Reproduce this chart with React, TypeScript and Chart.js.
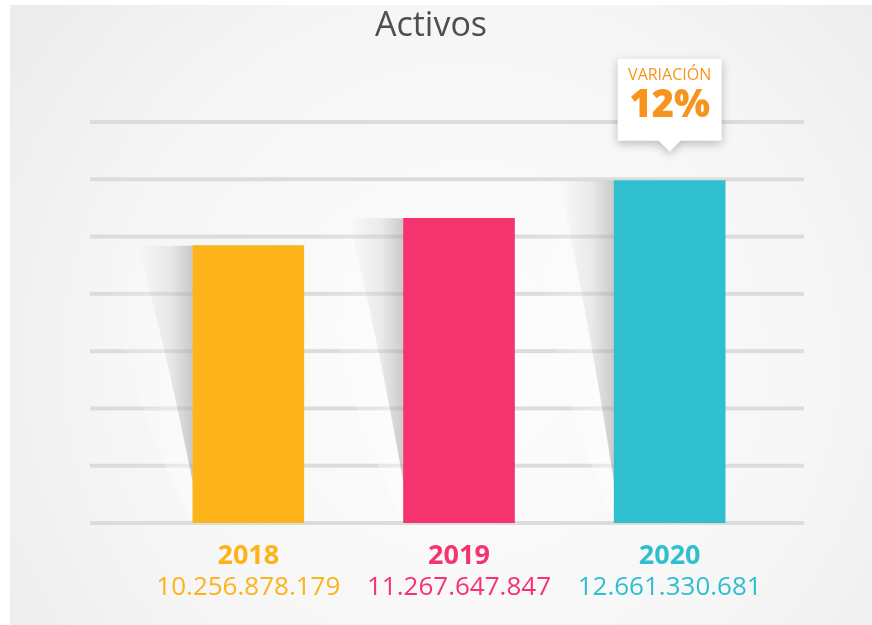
import React, { useEffect, useRef } from "react";
import { Chart, registerables } from "chart.js";

Chart.register(...registerables);

const categories = ["2018", "2019", "2020"];
const values = [10256878179, 11267647847, 12661330681];
const barColors = ["#FDB31A", "#F5336F", "#2FBFCF"];
const yMax = 14.83e9;
const gridCount = 7;
const titleText = "Activos";
const calloutLabel = "VARIACIÓN";
const calloutValue = "12%";

const fmt = (v: number) => Math.round(v).toString().replace(/\B(?=(\d{3})+(?!\d))/g, ".");

const FONT = "'Open Sans', 'Noto Sans', sans-serif";

const decorPlugin = {
  id: "decor",
  beforeDraw(chart: any) {
    const { ctx, width, height } = chart;
    ctx.save();
    ctx.fillStyle = "#ffffff";
    ctx.fillRect(0, 0, width, height);
    const g = ctx.createRadialGradient(470, 360, 40, 470, 360, 560);
    g.addColorStop(0, "#fcfcfc");
    g.addColorStop(0.6, "#f6f6f6");
    g.addColorStop(1, "#ececec");
    ctx.fillStyle = g;
    ctx.fillRect(10, 5, width - 10, height - 5);
    ctx.restore();
  },
  beforeDatasetsDraw(chart: any) {
    const { ctx } = chart;
    const y = chart.scales.y;
    ctx.save();
    // gridlines
    ctx.fillStyle = "#dcdcdc";
    for (let i = 0; i <= gridCount; i++) {
      const py = y.getPixelForValue((yMax / gridCount) * i);
      ctx.fillRect(90, py - 2, 714, 4);
    }
    // shadows
    const meta = chart.getDatasetMeta(0);
    meta.data.forEach((bar: any) => {
      const left = bar.x - bar.width / 2;
      const top = bar.y;
      const bottom = bar.base;
      const reach = 56;
      const endY = bottom - 40;
      // soft highlight
      ctx.beginPath();
      ctx.moveTo(left - reach - 35, top);
      ctx.lineTo(left, top);
      ctx.lineTo(left, bottom);
      ctx.quadraticCurveTo(left - reach - 10, bottom - (bottom - top) * 0.45, left - reach - 35, top);
      ctx.closePath();
      const hg = ctx.createLinearGradient(left - reach - 35, 0, left, 0);
      hg.addColorStop(0, "rgba(255,255,255,0)");
      hg.addColorStop(1, "rgba(255,255,255,0.45)");
      ctx.fillStyle = hg;
      ctx.fill();
      // shadow
      ctx.beginPath();
      ctx.moveTo(left - reach, top);
      ctx.lineTo(left, top);
      ctx.lineTo(left, endY);
      ctx.quadraticCurveTo(left - reach * 0.55, top + (endY - top) * 0.35, left - reach, top);
      ctx.closePath();
      const sg = ctx.createLinearGradient(left - reach, 0, left, 0);
      sg.addColorStop(0, "rgba(0,0,0,0)");
      sg.addColorStop(0.6, "rgba(0,0,0,0.07)");
      sg.addColorStop(1, "rgba(0,0,0,0.2)");
      ctx.fillStyle = sg;
      ctx.fill();
    });
    ctx.restore();
  },
  afterDatasetsDraw(chart: any) {
    const { ctx } = chart;
    const meta = chart.getDatasetMeta(0);
    ctx.save();
    ctx.textAlign = "center";
    ctx.textBaseline = "middle";
    // title
    ctx.fillStyle = "#4f4f4f";
    ctx.font = `34px ${FONT}`;
    ctx.fillText(titleText, 431, 26);
    // labels
    meta.data.forEach((bar: any, i: number) => {
      ctx.fillStyle = barColors[i];
      ctx.font = `bold 27px ${FONT}`;
      ctx.fillText(categories[i], bar.x, 556);
      ctx.font = `26px ${FONT}`;
      ctx.fillText(fmt(values[i]), bar.x, 588);
    });
    // callout over last bar
    const last = meta.data[meta.data.length - 1];
    const cx = last.x;
    const boxBottom = last.y - 40;
    const bw = 104, bh = 82;
    const bx = cx - bw / 2, by = boxBottom - bh;
    ctx.save();
    ctx.shadowColor = "rgba(0,0,0,0.25)";
    ctx.shadowBlur = 10;
    ctx.shadowOffsetY = 3;
    ctx.fillStyle = "#ffffff";
    ctx.beginPath();
    ctx.moveTo(bx, by);
    ctx.lineTo(bx + bw, by);
    ctx.lineTo(bx + bw, boxBottom);
    ctx.lineTo(cx + 11, boxBottom);
    ctx.lineTo(cx, boxBottom + 11);
    ctx.lineTo(cx - 11, boxBottom);
    ctx.lineTo(bx, boxBottom);
    ctx.closePath();
    ctx.fill();
    ctx.restore();
    ctx.fillStyle = "#F7941D";
    ctx.font = `16px ${FONT}`;
    ctx.fillText(calloutLabel, cx, by + 17);
    ctx.font = `900 38px ${FONT}`;
    ctx.fillText(calloutValue, cx, by + 48);
    ctx.restore();
  },
};

export default function App() {
  const ref = useRef<HTMLCanvasElement>(null);
  useEffect(() => {
    const chart = new Chart(ref.current as HTMLCanvasElement, {
      type: "bar",
      data: {
        labels: categories,
        datasets: [
          {
            data: values,
            backgroundColor: barColors,
            barThickness: 111,
            borderWidth: 0,
          },
        ],
      },
      options: {
        animation: false,
        responsive: false,
        maintainAspectRatio: false,
        layout: { padding: { left: 143, right: 97, top: 122, bottom: 102 } },
        plugins: { legend: { display: false }, tooltip: { enabled: false }, title: { display: false } },
        scales: {
          x: { display: false, offset: true },
          y: { display: false, min: 0, max: yMax },
        },
      },
      plugins: [decorPlugin],
    } as any);
    return () => chart.destroy();
  }, []);
  return (
    <div style={{ position: "fixed", left: 0, top: 0, width: 872, height: 625 }}>
      <canvas ref={ref} width={872} height={625} style={{ display: "block" }} />
    </div>
  );
}
